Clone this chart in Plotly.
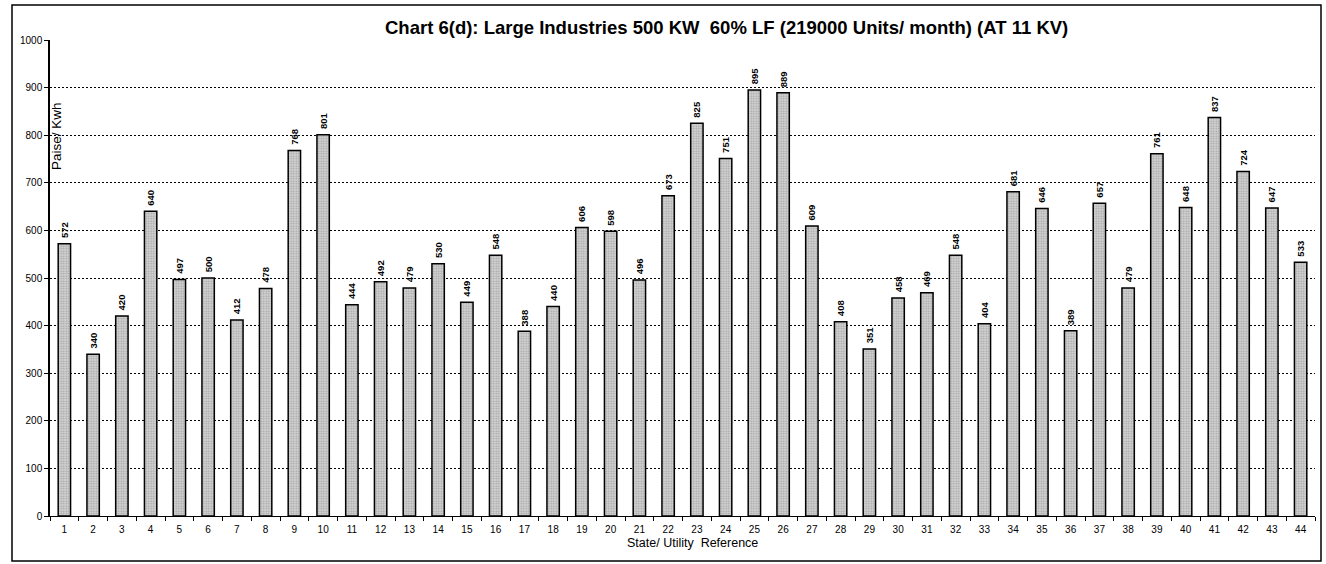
import plotly.graph_objects as go

categories = [str(i) for i in range(1, 45)]
values = [572, 340, 420, 640, 497, 500, 412, 478, 768, 801,
          444, 492, 479, 530, 449, 548, 388, 440, 606, 598,
          496, 673, 825, 751, 895, 889, 609, 408, 351, 458,
          469, 548, 404, 681, 646, 389, 657, 479, 761, 648,
          837, 724, 647, 533]
y_ticks = list(range(0, 1001, 100))

title_text = "Chart 6(d): Large Industries 500 KW\u00a0 60% LF (219000 Units/ month) (AT 11 KV)"

W, H = 1326, 564
L, R, T, B = 50, 11, 40, 48
pw, ph = W - L - R, H - T - B

fig = go.Figure(go.Bar(
    x=categories, y=values,
    width=0.43,
    marker=dict(color="#c4c4c4",
                line=dict(color="black", width=1.5),
                pattern=dict(shape=".", fgcolor="#707070", bgcolor="#d4d4d4", size=2.5, solidity=0.4)),
    text=["\u00a0<b>" + str(v) + "</b>" for v in values],
    textposition="outside",
    textangle=-90,
    constraintext="none",
    textfont=dict(family="Arial, Liberation Sans", size=9.5, color="black"),
    cliponaxis=False,
))

def px_x(x):
    return (x - L) / pw

def px_y(y):
    return (H - B - y) / ph

fig.update_layout(
    width=W, height=H,
    margin=dict(l=L, r=R, t=T, b=B),
    paper_bgcolor="white", plot_bgcolor="white",
    font=dict(family="Arial, Liberation Sans", color="black"),
    showlegend=False,
    annotations=[
        dict(text="<b>" + title_text + "</b>", xref="paper", yref="paper",
             x=px_x(726), y=px_y(27), xanchor="center", yanchor="middle",
             showarrow=False, font=dict(size=18.5, family="Arial, Liberation Sans")),
        dict(text="Paise/ Kwh", xref="paper", yref="paper",
             x=px_x(57), y=px_y(136), xanchor="center", yanchor="middle",
             textangle=-90, showarrow=False, font=dict(size=13.5)),
        dict(text="State/ Utility\u00a0 Reference", xref="paper", yref="paper",
             x=px_x(692), y=px_y(543), xanchor="center", yanchor="middle",
             showarrow=False, font=dict(size=12.5)),
    ],
    shapes=[
        dict(type="rect", xref="paper", yref="paper",
             x0=px_x(12), x1=px_x(1321), y0=px_y(561), y1=px_y(5),
             line=dict(color="black", width=1.5)),
    ],
)

fig.update_xaxes(
    type="category", range=[-0.5, 43.5],
    showline=True, linecolor="black", linewidth=1,
    ticks="outside", tickson="boundaries", ticklen=4, tickcolor="black",
    tickfont=dict(size=10), ticklabelstandoff=4, showgrid=False,
)
fig.update_yaxes(
    range=[0, 1000], tickvals=y_ticks,
    showline=True, linecolor="black", linewidth=1.5,
    ticks="outside", ticklen=4, tickcolor="black",
    tickfont=dict(size=10),
    showgrid=True, gridcolor="black", gridwidth=1, griddash="2px,2px",
    zeroline=False,
)

fig.write_html("out.html",
               config={"displayModeBar": False},
               post_script="document.body.style.margin='0';document.body.style.overflow='hidden';")
